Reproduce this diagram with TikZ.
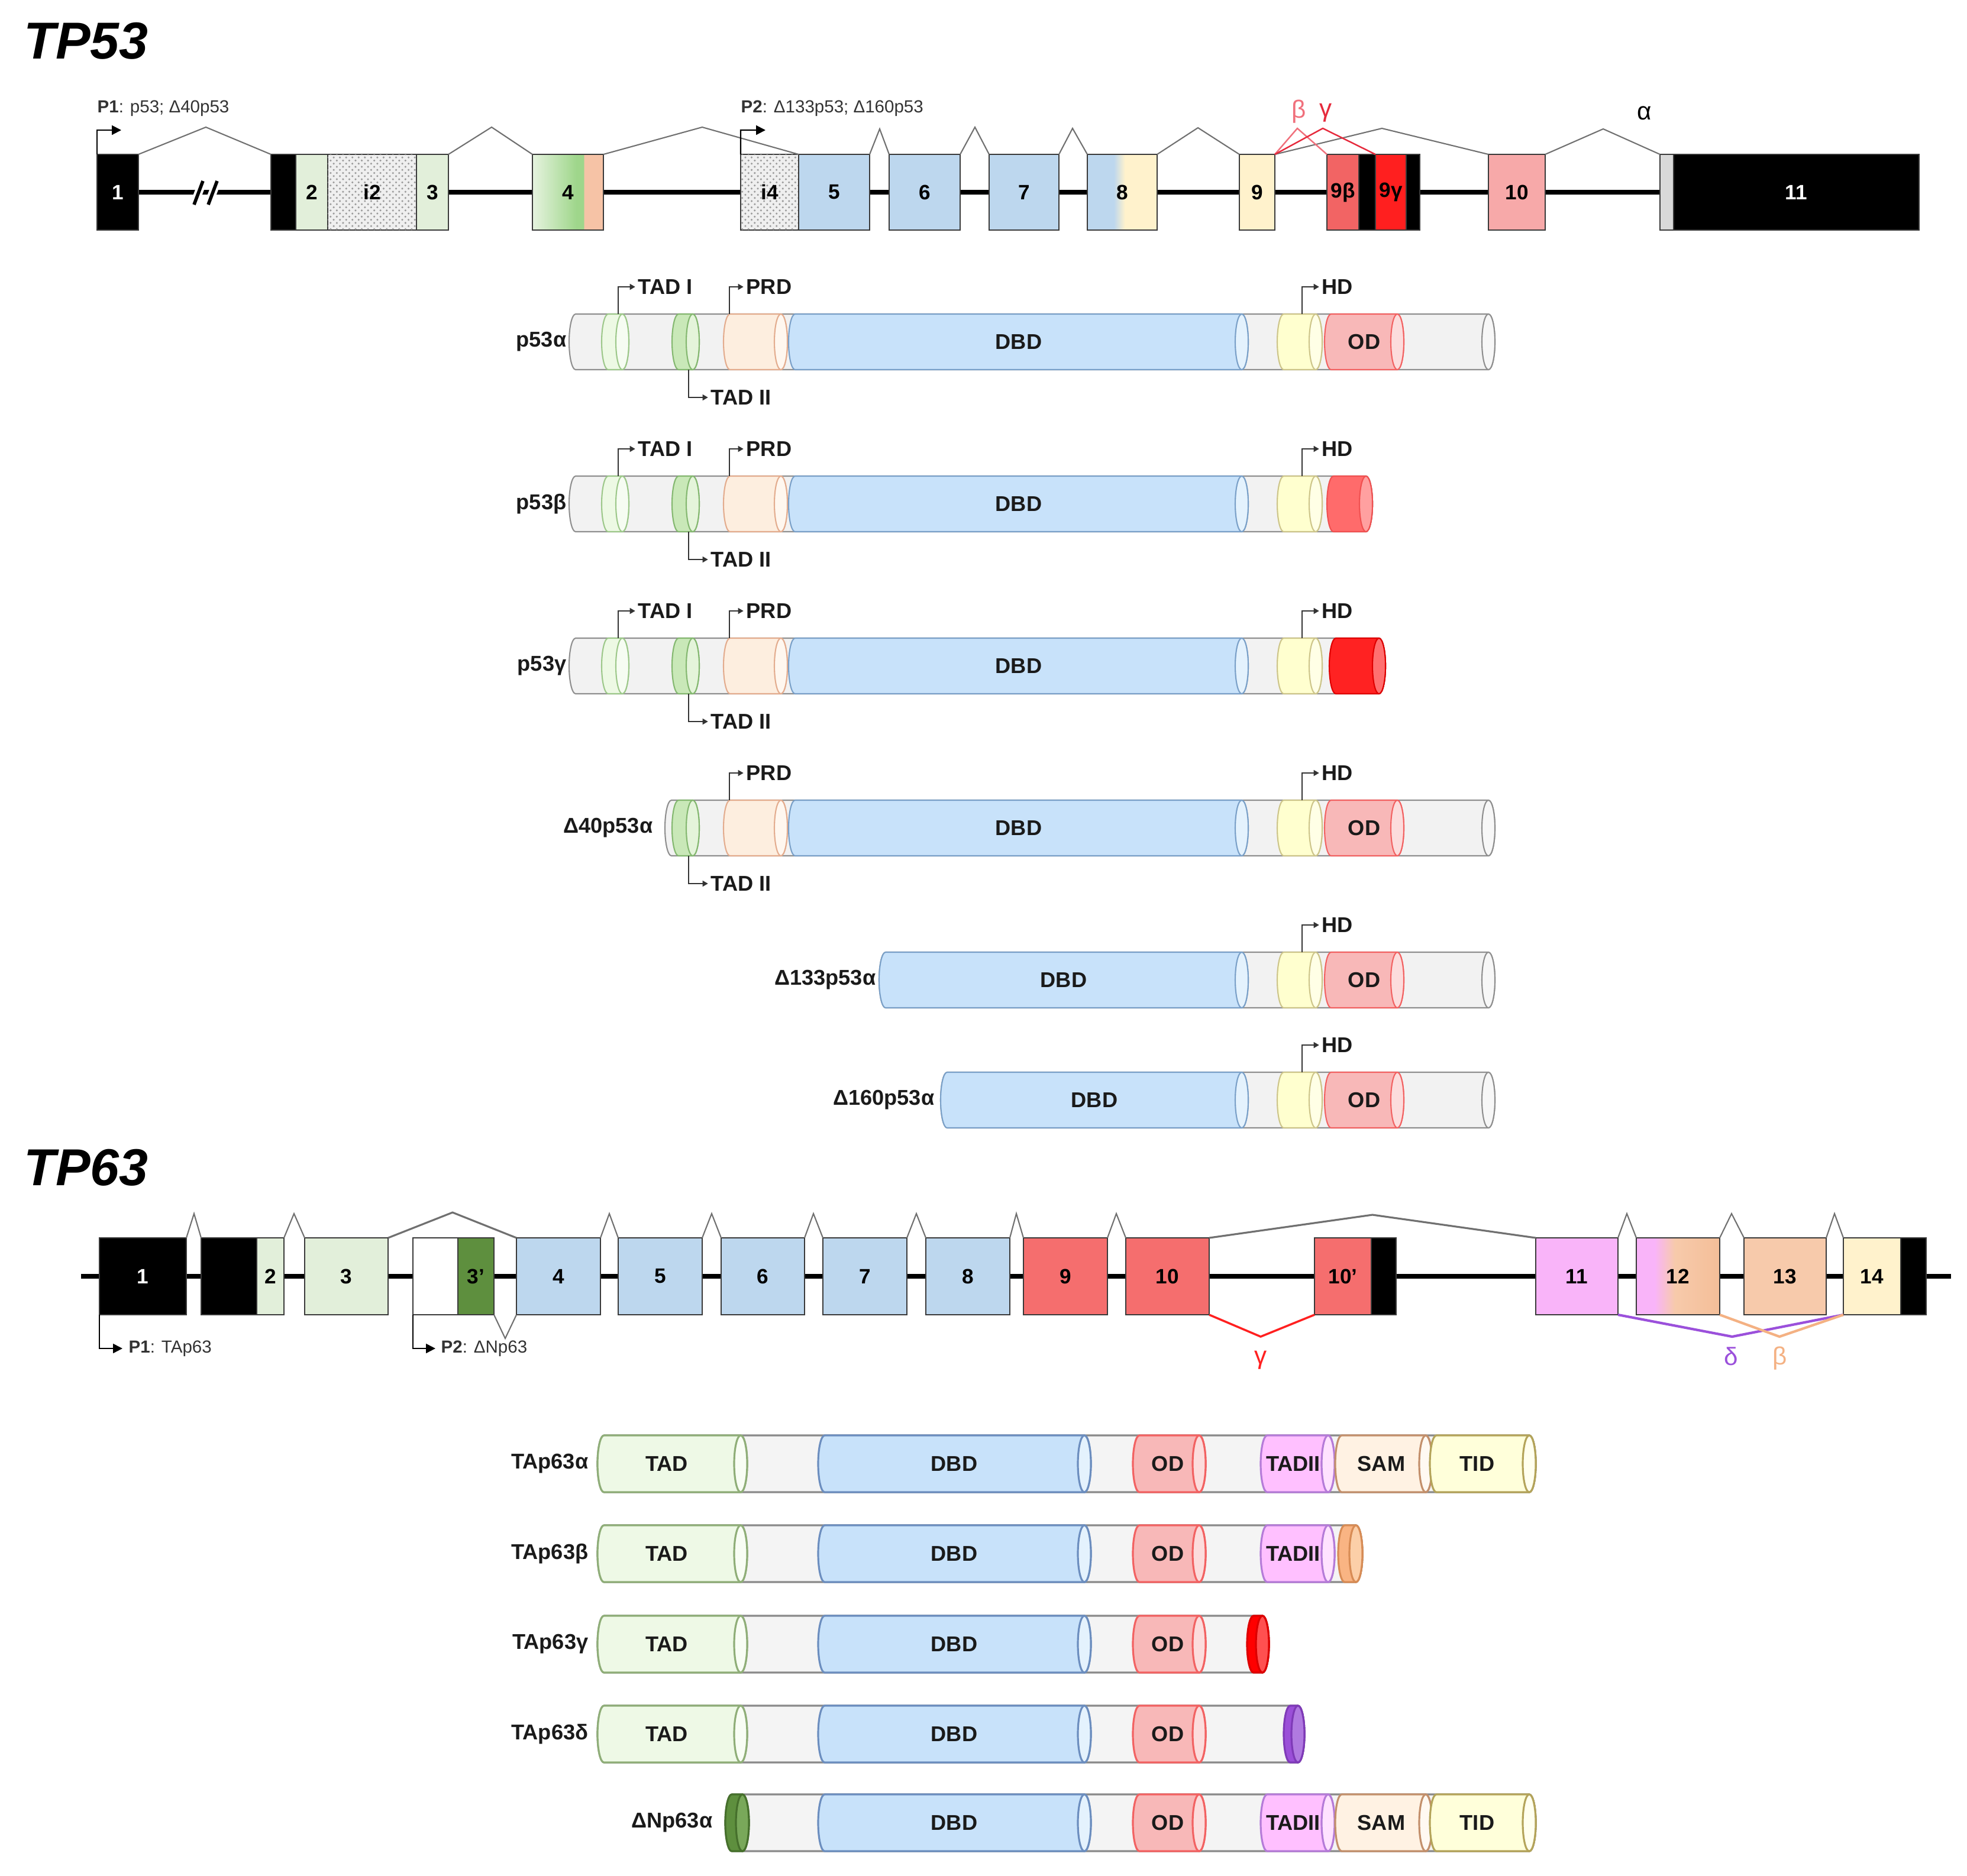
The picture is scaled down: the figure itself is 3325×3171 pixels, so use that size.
\documentclass[tikz,border=0pt]{standalone}
\usepackage{fontspec}
\setmainfont{Liberation Sans}
\usetikzlibrary{arrows.meta,patterns}

% ---------- colours ----------
\definecolor{exS}{HTML}{3A3A3A}
\definecolor{exgrn}{HTML}{E2EFDA}
\definecolor{exdot}{HTML}{EFEFEF}
\definecolor{dotc}{HTML}{9A9A9A}
\definecolor{exblu}{HTML}{BDD7EE}
\definecolor{exyel}{HTML}{FFF2CC}
\definecolor{exbeta}{HTML}{F26464}
\definecolor{exgam}{HTML}{FF1F1F}
\definecolor{expink}{HTML}{F7A9A9}
\definecolor{exgry}{HTML}{D9D9D9}
\definecolor{ex4a}{HTML}{E6F3DF}
\definecolor{ex4b}{HTML}{9FD68B}
\definecolor{ex4c}{HTML}{F6C3A6}
\definecolor{exdkg}{HTML}{5E8F3E}
\definecolor{exred}{HTML}{F56E6E}
\definecolor{exvio}{HTML}{F9B4F9}
\definecolor{expch}{HTML}{F7CAAB}
\definecolor{ex12b}{HTML}{F4BE98}
\definecolor{spl}{HTML}{707070}
\definecolor{lbeta}{HTML}{F0707C}
\definecolor{lgam}{HTML}{E62A3C}
\definecolor{qgam}{HTML}{FF2020}
\definecolor{qdel}{HTML}{9B50DB}
\definecolor{qbet}{HTML}{F4B183}
\definecolor{txt}{HTML}{1A1A1A}
\definecolor{ptrc}{HTML}{333333}
\definecolor{pgr}{HTML}{F2F2F2}\definecolor{pgrS}{HTML}{8F8F8F}\definecolor{pgrF}{HTML}{F7F7F7}
\definecolor{ptadI}{HTML}{EDF9E4}\definecolor{ptadIS}{HTML}{9DC88A}\definecolor{ptadIF}{HTML}{F6FCF2}
\definecolor{ptadII}{HTML}{C9E8B8}\definecolor{ptadIIS}{HTML}{84B870}\definecolor{ptadIIF}{HTML}{E4F4DA}
\definecolor{pprd}{HTML}{FDEEDF}\definecolor{pprdS}{HTML}{E3AC8E}\definecolor{pprdF}{HTML}{FFF7EF}
\definecolor{pdbd}{HTML}{C8E2FA}\definecolor{pdbdS}{HTML}{7AA0C8}\definecolor{pdbdF}{HTML}{E4F2FD}
\definecolor{phd}{HTML}{FFFFCF}\definecolor{phdS}{HTML}{CDC58A}\definecolor{phdF}{HTML}{FFFFE6}
\definecolor{pod}{HTML}{F8B8B8}\definecolor{podS}{HTML}{F26262}\definecolor{podF}{HTML}{FCDCDC}
\definecolor{pbeta}{HTML}{FF6B6B}\definecolor{pbetaS}{HTML}{F05050}\definecolor{pbetaF}{HTML}{FFA0A0}
\definecolor{pgam}{HTML}{FF2222}\definecolor{pgamS}{HTML}{E00000}\definecolor{pgamF}{HTML}{FF7070}
\definecolor{qgr}{HTML}{F4F4F4}\definecolor{qgrS}{HTML}{8A8A8A}\definecolor{qgrF}{HTML}{F8F8F8}
\definecolor{qtad}{HTML}{EEF9E6}\definecolor{qtadS}{HTML}{8FAE78}\definecolor{qtadF}{HTML}{F8FDF4}
\definecolor{qdbdS}{HTML}{6C8EBF}
\definecolor{qtadii}{HTML}{FFC0FF}\definecolor{qtadiiS}{HTML}{B57BD8}\definecolor{qtadiiF}{HTML}{FFE2FF}
\definecolor{qsam}{HTML}{FFF2E3}\definecolor{qsamS}{HTML}{C3906C}\definecolor{qsamF}{HTML}{FFF9F2}
\definecolor{qtid}{HTML}{FFFFDA}\definecolor{qtidS}{HTML}{B4A45A}\definecolor{qtidF}{HTML}{FFFFEE}
\definecolor{qor}{HTML}{F9B483}\definecolor{qorS}{HTML}{D88C55}\definecolor{qorF}{HTML}{FCCFA8}
\definecolor{qred}{HTML}{FF0000}\definecolor{qredS}{HTML}{DD0000}\definecolor{qredF}{HTML}{FF5050}
\definecolor{qpur}{HTML}{9B4FD8}\definecolor{qpurS}{HTML}{7F3AB8}\definecolor{qpurF}{HTML}{B07AE0}
\definecolor{qdn}{HTML}{5E8F3E}\definecolor{qdnS}{HTML}{46702C}\definecolor{qdnF}{HTML}{79A85A}

% ---------- shadings ----------
\pgfdeclarehorizontalshading{exfour}{100bp}{color(0bp)=(ex4a); color(25bp)=(ex4a); color(56bp)=(ex4b); color(61bp)=(ex4b); color(61.5bp)=(ex4c); color(100bp)=(ex4c)}
\pgfdeclarehorizontalshading{exeight}{100bp}{color(0bp)=(exblu); color(44bp)=(exblu); color(52bp)=(exyel); color(100bp)=(exyel)}
\pgfdeclarehorizontalshading{extwelve}{100bp}{color(0bp)=(exvio); color(36bp)=(exvio); color(48bp)=(expch); color(75bp)=(ex12b); color(100bp)=(ex12b)}

% ---------- fonts ----------
\newcommand\ftitle{\fontsize{25}{30}\selectfont\bfseries\itshape}
\newcommand\fex{\fontsize{10}{12}\selectfont\bfseries}
\newcommand\fdom{\fontsize{10.3}{12}\selectfont\bfseries}
\newcommand\fsml{\fontsize{8.4}{10}\selectfont}
\newcommand\fgk{\fontsize{12}{14}\selectfont}

% ---------- helpers ----------
\newcommand\cyllw{0.6pt}
% x1 x2 yc halfheight fill stroke face
\newcommand\cylseg[7]{%
  \filldraw[fill=#5, draw=#6, line width=\cyllw] ({#1},{#3-#4}) -- ({#2},{#3-#4})
    arc[start angle=90, end angle=-90, x radius=1.1mm, y radius=#4*0.1mm]
    -- ({#1},{#3+#4})
    arc[start angle=-90, end angle=-270, x radius=1.1mm, y radius=#4*0.1mm] -- cycle;
  \filldraw[fill=#7, draw=#6, line width=\cyllw] ({#2},{#3}) ellipse[x radius=1.1mm, y radius=#4*0.1mm];}
% exon: name x1 x2 fill label textcolour
\newcommand\exn[6]{\node[exon, fill=#4, text=#6, minimum width={(#3-#2)*0.1mm}] (#1) at ({(#2+#3)/2},\gy) {#5};}

% TP53 domains
\newcommand\dGR[3]{\cylseg{#1}{#2}{#3}{47}{pgr}{pgrS}{pgrF}}
\newcommand\dTADI[1]{\cylseg{1028}{1052}{#1}{47}{ptadI}{ptadIS}{ptadIF}}
\newcommand\dTADII[1]{\cylseg{1147}{1171}{#1}{47}{ptadII}{ptadIIS}{ptadIIF}}
\newcommand\dPRD[1]{\cylseg{1234}{1320}{#1}{47}{pprd}{pprdS}{pprdF}}
\newcommand\dDBD[2]{\cylseg{#2}{2099}{#1}{47}{pdbd}{pdbdS}{pdbdF}}
\newcommand\dHD[1]{\cylseg{2170}{2224}{#1}{47}{phd}{phdS}{phdF}}
\newcommand\dOD[1]{\cylseg{2250}{2362}{#1}{47}{pod}{podS}{podF}}
\newcommand\lTADI[2]{\coordinate (#2a) at (1045,{#1-47}); \node[dom,anchor=west] (#2) at (1078,{#1-93}) {TAD I}; \draw[ptr] (#2a) |- (#2.west);}
\newcommand\lPRD[2]{\coordinate (#2a) at (1233,{#1-47}); \node[dom,anchor=west] (#2) at (1261,{#1-93}) {PRD}; \draw[ptr] (#2a) |- (#2.west);}
\newcommand\lHD[2]{\coordinate (#2a) at (2201,{#1-47}); \node[dom,anchor=west] (#2) at (2234,{#1-93}) {HD}; \draw[ptr] (#2a) |- (#2.west);}
\newcommand\lTADII[2]{\coordinate (#2a) at (1164,{#1+47}); \node[dom,anchor=west] (#2) at (1201,{#1+94}) {TAD II}; \draw[ptr] (#2a) |- (#2.west);}

% TP63 domains
\newcommand\qGR[3]{\cylseg{#1}{#2}{#3}{48}{qgr}{qgrS}{qgrF}}
\newcommand\qTAD[1]{\cylseg{1021}{1252}{#1}{48}{qtad}{qtadS}{qtadF}}
\newcommand\qDBD[1]{\cylseg{1394}{1833}{#1}{48}{pdbd}{qdbdS}{pdbdF}}
\newcommand\qOD[1]{\cylseg{1926}{2027}{#1}{48}{pod}{podS}{podF}}
\newcommand\qTADII[1]{\cylseg{2142}{2245}{#1}{48}{qtadii}{qtadiiS}{qtadiiF}}
\newcommand\qSAM[1]{\cylseg{2268}{2410}{#1}{48}{qsam}{qsamS}{qsamF}}
\newcommand\qTID[1]{\cylseg{2428}{2585}{#1}{48}{qtid}{qtidS}{qtidF}}

\tikzset{
  exon/.style={draw=exS, line width=0.8pt, inner sep=0pt, outer sep=0pt, minimum height=\exh, font=\fex},
  geneline/.style={line width=2.3pt, draw=black},
  splice/.style={draw=spl, line width=0.6pt},
  splicew/.style={draw=spl, line width=0.9pt},
  dom/.style={inner sep=0pt, font=\fdom, text=txt},
  iso/.style={inner sep=0pt, font=\fdom, text=txt, anchor=east},
  ptr/.style={draw=ptrc, line width=0.6pt, shorten >=1.2pt, -{Triangle[length=2.6pt,width=2.8pt]}},
  prom/.style={draw=black, line width=0.6pt, -{Triangle[length=4.5pt,width=4.5pt]}},
  smalltxt/.style={inner sep=0pt, font=\fsml, text=ptrc, anchor=west},
  genetitle/.style={inner sep=0pt, font=\ftitle, anchor=north west},
  greek/.style={inner sep=0pt, font=\fgk},
}

\begin{document}
\begin{tikzpicture}[x=0.1mm,y=-0.1mm]
\useasboundingbox (0,0) rectangle (3325,3171);
\fill[white] (0,0) rectangle (3325,3171);

% ================= TP53 gene =================
\node[genetitle] (tp53) at (40,37) {TP53};
\def\gy{325}\def\exh{12.8mm}
\coordinate (g53a) at (234,325); \coordinate (g53b) at (2806,325);
\draw[geneline] (g53a) -- (g53b);
\coordinate (br1a) at (328,346); \coordinate (br1b) at (343,306);
\coordinate (br2a) at (352,346); \coordinate (br2b) at (367,306);
\draw[white, line width=4pt] (br1a) -- (br1b);
\draw[white, line width=4pt] (br2a) -- (br2b);
\draw[black, line width=1.6pt] (br1a) -- (br1b);
\draw[black, line width=1.6pt] (br2a) -- (br2b);

\exn{t1}{164}{234}{black}{1}{white}
\exn{t2a}{458}{500}{black}{}{black}
\exn{t2b}{500}{554}{exgrn}{2}{black}
\node[exon, fill=exdot, postaction={pattern=crosshatch dots, pattern color=dotc}, minimum width=15mm] (ti2) at (629,325) {i2};
\exn{t3}{704}{758}{exgrn}{3}{black}
\node[exon, shade, shading=exfour, minimum width=12mm] (t4) at (960,325) {4};
\node[exon, fill=exdot, postaction={pattern=crosshatch dots, pattern color=dotc}, minimum width=9.8mm] (ti4) at (1301,325) {i4};
\exn{t5}{1350}{1470}{exblu}{5}{black}
\exn{t6}{1503}{1623}{exblu}{6}{black}
\exn{t7}{1672}{1790}{exblu}{7}{black}
\node[exon, shade, shading=exeight, minimum width=11.8mm] (t8) at (1897,325) {8};
\exn{t9}{2095}{2155}{exyel}{9}{black}
\exn{t9b}{2243}{2297}{exbeta}{9β}{black}
\exn{t9k}{2297}{2325}{black}{}{black}
\exn{t9g}{2325}{2377}{exgam}{9γ}{black}
\exn{t9m}{2377}{2400}{black}{}{black}
\exn{t10}{2516}{2612}{expink}{10}{black}
\exn{t11a}{2806}{2829}{exgry}{}{black}
\exn{t11}{2829}{3244}{black}{11}{white}

\draw[splice] (t1.north east) -- (348,215) -- (t2a.north west);
\draw[splice] (t3.north east) -- (831,215) -- (t4.north west);
\draw[splice] (t4.north east) -- (1187,215) -- (t5.north west);
\draw[splice] (t5.north east) -- (1487,218) -- (t6.north west);
\draw[splice] (t6.north east) -- (1648,215) -- (t7.north west);
\draw[splice] (t7.north east) -- (1813,217) -- (t8.north west);
\draw[splice] (t8.north east) -- (2025,216) -- (t9.north west);
\draw[splice] (t9.north east) -- (2336,217) -- (t10.north west);
\draw[splice] (t10.north east) -- (2710,218) -- (t11a.north west);
\draw[draw=lbeta, line width=0.7pt] (t9.north east) -- (2193,217) -- (t9b.north west);
\draw[draw=lgam, line width=0.7pt] (t9.north east) -- (2236,217) -- (t9g.north west);
\node[greek, text=lbeta] (lb53) at (2196,189) {β};
\node[greek, text=lgam] (lg53) at (2241,191) {γ};
\node[greek, text=black] (la53) at (2780,191) {α};

\coordinate (p1k) at (164,220); \coordinate (p1e) at (205,220);
\draw[prom] (t1.north west) -- (p1k) -- (p1e);
\node[smalltxt] (p1t) at (164,183) {{\bfseries P1}: p53; Δ40p53};
\coordinate (p2k) at (1252,220); \coordinate (p2e) at (1294,220);
\draw[prom] (ti4.north west) -- (p2k) -- (p2e);
\node[smalltxt] (p2t) at (1252,183) {{\bfseries P2}: Δ133p53; Δ160p53};

% ================= TP53 proteins =================
% p53alpha
\dGR{973}{2516}{578}\dTADI{578}\dTADII{578}\dPRD{578}\dDBD{578}{1344}\dHD{578}\dOD{578}
\node[dom] (aDBD) at (1722,578) {DBD};
\node[dom] (aOD) at (2306,578) {OD};
\node[iso] (aName) at (958,578) {p53α};
\lTADI{578}{aTI}\lPRD{578}{aPRD}\lHD{578}{aHD}\lTADII{578}{aTII}
% p53beta
\dGR{973}{2309}{852}\dTADI{852}\dTADII{852}\dPRD{852}\dDBD{852}{1344}\dHD{852}
\cylseg{2254}{2309}{852}{47}{pbeta}{pbetaS}{pbetaF}
\node[dom] (bDBD) at (1722,852) {DBD};
\node[iso] (bName) at (958,852) {p53β};
\lTADI{852}{bTI}\lPRD{852}{bPRD}\lHD{852}{bHD}\lTADII{852}{bTII}
% p53gamma
\dGR{973}{2331}{1126}\dTADI{1126}\dTADII{1126}\dPRD{1126}\dDBD{1126}{1344}\dHD{1126}
\cylseg{2258}{2331}{1126}{47}{pgam}{pgamS}{pgamF}
\node[dom] (gDBD) at (1722,1126) {DBD};
\node[iso] (gName) at (958,1126) {p53γ};
\lTADI{1126}{gTI}\lPRD{1126}{gPRD}\lHD{1126}{gHD}\lTADII{1126}{gTII}
% Delta40p53alpha
\dGR{1135}{2516}{1400}\dTADII{1400}\dPRD{1400}\dDBD{1400}{1344}\dHD{1400}\dOD{1400}
\node[dom] (dDBD) at (1722,1400) {DBD};
\node[dom] (dOD) at (2306,1400) {OD};
\node[iso] (dName) at (1104,1400) {Δ40p53α};
\lPRD{1400}{dPRD}\lHD{1400}{dHD}\lTADII{1400}{dTII}
% Delta133p53alpha
\dGR{1497}{2516}{1657}\dDBD{1657}{1497}\dHD{1657}\dOD{1657}
\node[dom] (eDBD) at (1798,1657) {DBD};
\node[dom] (eOD) at (2306,1657) {OD};
\node[iso] (eName) at (1481,1657) {Δ133p53α};
\lHD{1657}{eHD}
% Delta160p53alpha
\dGR{1601}{2516}{1860}\dDBD{1860}{1601}\dHD{1860}\dOD{1860}
\node[dom] (fDBD) at (1850,1860) {DBD};
\node[dom] (fOD) at (2306,1860) {OD};
\node[iso] (fName) at (1580,1860) {Δ160p53α};
\lHD{1860}{fHD}

% ================= TP63 gene =================
\node[genetitle] (tp63) at (40,1942) {TP63};
\def\gy{2158}\def\exh{13mm}
\coordinate (g63a) at (137,2158); \coordinate (g63b) at (3298,2158);
\draw[geneline] (g63a) -- (g63b);
\exn{q1}{168}{315}{black}{1}{white}
\exn{q2a}{340}{434}{black}{}{black}
\exn{q2b}{434}{480}{exgrn}{2}{black}
\exn{q3}{515}{656}{exgrn}{3}{black}
\exn{q3a}{698}{774}{white}{}{black}
\exn{q3b}{774}{835}{exdkg}{3’}{black}
\exn{q4}{873}{1015}{exblu}{4}{black}
\exn{q5}{1045}{1187}{exblu}{5}{black}
\exn{q6}{1219}{1360}{exblu}{6}{black}
\exn{q7}{1391}{1533}{exblu}{7}{black}
\exn{q8}{1565}{1707}{exblu}{8}{black}
\exn{q9}{1730}{1872}{exred}{9}{black}
\exn{q10}{1903}{2044}{exred}{10}{black}
\exn{q10a}{2222}{2318}{exred}{10’}{black}
\exn{q10b}{2318}{2360}{black}{}{black}
\exn{q11}{2596}{2735}{exvio}{11}{black}
\node[exon, shade, shading=extwelve, minimum width=14.1mm] (q12) at (2836.5,2158) {12};
\exn{q13}{2948}{3087}{expch}{13}{black}
\exn{q14}{3116}{3213}{exyel}{14}{black}
\exn{q14b}{3213}{3256}{black}{}{black}

\draw[splice] (q1.north east) -- (328,2052) -- (q2a.north west);
\draw[splice] (q2b.north east) -- (497,2052) -- (q3.north west);
\draw[splicew] (q3.north east) -- (765,2050) -- (q4.north west);
\draw[splice] (q3b.south east) -- (854,2263) -- (q4.south west);
\draw[splice] (q4.north east) -- (1030,2052) -- (q5.north west);
\draw[splice] (q5.north east) -- (1203,2052) -- (q6.north west);
\draw[splice] (q6.north east) -- (1375,2052) -- (q7.north west);
\draw[splice] (q7.north east) -- (1549,2052) -- (q8.north west);
\draw[splice] (q8.north east) -- (1718,2052) -- (q9.north west);
\draw[splice] (q9.north east) -- (1887,2052) -- (q10.north west);
\draw[splicew] (q10.north east) -- (2320,2054) -- (q11.north west);
\draw[splice] (q11.north east) -- (2750,2052) -- (q12.north west);
\draw[splice] (q12.north east) -- (2927,2052) -- (q13.north west);
\draw[splice] (q13.north east) -- (3101,2052) -- (q14.north west);
\draw[draw=qgam, line width=1pt] (q10.south east) -- (2131,2260) -- (q10a.south west);
\draw[draw=qdel, line width=1.2pt] (q11.south east) -- (2928,2260) -- (q14.south west);
\draw[draw=qbet, line width=1.2pt] (q12.south east) -- (3008,2260) -- (q14.south west);
\node[greek, text=qgam] (lg63) at (2131,2300) {γ};
\node[greek, text=qdel] (ld63) at (2926,2293) {δ};
\node[greek, text=qbet] (lb63) at (3009,2297) {β};

\coordinate (q1k) at (168,2280); \coordinate (q1e) at (207,2280);
\draw[prom] (q1.south west) -- (q1k) -- (q1e);
\node[smalltxt] (q1t) at (217,2280) {{\bfseries P1}: TAp63};
\coordinate (q2k) at (698,2280); \coordinate (q2e) at (736,2280);
\draw[prom] (q3a.south west) -- (q2k) -- (q2e);
\node[smalltxt] (q2t) at (745,2280) {{\bfseries P2}: ΔNp63};

% ================= TP63 proteins =================
\renewcommand\cyllw{0.9pt}
% TAp63alpha
\qGR{1021}{2585}{2475}\qTAD{2475}\qDBD{2475}\qOD{2475}\qTADII{2475}\qSAM{2475}\qTID{2475}
\node[dom] (AtTAD) at (1127,2475) {TAD};
\node[dom] (AtDBD) at (1613,2475) {DBD};
\node[dom] (AtOD) at (1974,2475) {OD};
\node[dom] (AtTII) at (2186,2475) {TADII};
\node[dom] (AtSAM) at (2335,2475) {SAM};
\node[dom] (AtTID) at (2497,2475) {TID};
\node[iso] (AtName) at (995,2475) {TAp63α};
% TAp63beta
\qGR{1021}{2292}{2627}\qTAD{2627}\qDBD{2627}\qOD{2627}\qTADII{2627}
\cylseg{2273}{2292}{2627}{48}{qor}{qorS}{qorF}
\node[dom] (BtTAD) at (1127,2627) {TAD};
\node[dom] (BtDBD) at (1613,2627) {DBD};
\node[dom] (BtOD) at (1974,2627) {OD};
\node[dom] (BtTII) at (2186,2627) {TADII};
\node[iso] (BtName) at (995,2627) {TAp63β};
% TAp63gamma
\qGR{1021}{2134}{2780}\qTAD{2780}\qDBD{2780}\qOD{2780}
\cylseg{2119}{2134}{2780}{48}{qred}{qredS}{qredF}
\node[dom] (GtTAD) at (1127,2780) {TAD};
\node[dom] (GtDBD) at (1613,2780) {DBD};
\node[dom] (GtOD) at (1974,2780) {OD};
\node[iso] (GtName) at (995,2780) {TAp63γ};
% TAp63delta
\qGR{1021}{2194}{2932}\qTAD{2932}\qDBD{2932}\qOD{2932}
\cylseg{2181}{2194}{2932}{48}{qpur}{qpurS}{qpurF}
\node[dom] (DtTAD) at (1127,2932) {TAD};
\node[dom] (DtDBD) at (1613,2932) {DBD};
\node[dom] (DtOD) at (1974,2932) {OD};
\node[iso] (DtName) at (995,2932) {TAp63δ};
% DeltaNp63alpha
\qGR{1237}{2585}{3082}
\cylseg{1237}{1255}{3082}{48}{qdn}{qdnS}{qdnF}
\qDBD{3082}\qOD{3082}\qTADII{3082}\qSAM{3082}\qTID{3082}
\node[dom] (NtDBD) at (1613,3082) {DBD};
\node[dom] (NtOD) at (1974,3082) {OD};
\node[dom] (NtTII) at (2186,3082) {TADII};
\node[dom] (NtSAM) at (2335,3082) {SAM};
\node[dom] (NtTID) at (2497,3082) {TID};
\node[iso] (NtName) at (1205,3082) {ΔNp63α};
\end{tikzpicture}
\end{document}
